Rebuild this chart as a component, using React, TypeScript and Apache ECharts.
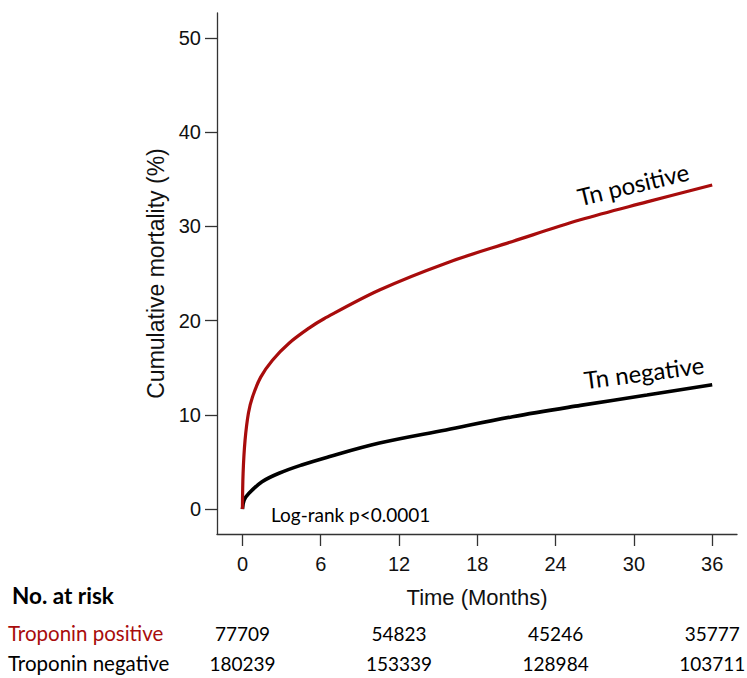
import React, { useEffect, useRef } from "react";
import * as echarts from "echarts";

// Cumulative mortality (%) by months since index troponin test
const posMonths = [0, 0.05, 0.2, 0.46, 0.77, 1.4, 2.3, 3.57, 5.1, 6.25, 10.5, 15.6, 20.7, 25.9, 31, 36];
const posMortality = [0, 3.8, 7.3, 10.2, 11.9, 14.0, 15.8, 17.6, 19.2, 20.2, 23.25, 26.1, 28.4, 30.7, 32.6, 34.4];

const negMonths = [0, 0.13, 0.5, 1.5, 2.8, 4.6, 6.25, 10.5, 15.6, 20.7, 25.9, 31, 36];
const negMortality = [0, 0.95, 1.67, 2.9, 3.8, 4.7, 5.4, 7.0, 8.4, 9.8, 11.0, 12.1, 13.2];

const xTicks = [0, 6, 12, 18, 24, 30, 36];
const yTicks = [0, 10, 20, 30, 40, 50];

// Numbers at risk
const riskMonths = [0, 12, 24, 36];
const riskPositive = [77709, 54823, 45246, 35777];
const riskNegative = [180239, 153339, 128984, 103711];

const RED = "#a80c0c";
const AXIS_FONT = "'Liberation Sans', Arial, sans-serif";
const TEXT_FONT = "Lato, 'Open Sans', sans-serif";

function zip(xs: number[], ys: number[]) {
  return xs.map((x, i) => [x, ys[i]]);
}

export default function App() {
  const ref = useRef<HTMLDivElement>(null);

  useEffect(() => {
    document.body.style.margin = "0";
    if (!ref.current) return;
    const chart = echarts.init(ref.current, null, { renderer: "svg" });

    const axisLine = { show: true, onZero: false, lineStyle: { color: "#333", width: 1.3 } };
    const tickStyle = { color: "#333", width: 1.3 };

    chart.setOption({
      animation: false,
      backgroundColor: "#fff",
      grid: { left: 217, right: 10, top: 13, bottom: 144 },
      xAxis: {
        type: "value",
        min: -1.95,
        max: 37.9,
        name: "Time (Months)",
        nameLocation: "middle",
        nameGap: 52,
        nameTextStyle: { fontFamily: AXIS_FONT, fontSize: 22, color: "#111" },
        axisLine,
        axisTick: { show: true, length: 12, customValues: xTicks, lineStyle: tickStyle },
        axisLabel: {
          customValues: xTicks,
          margin: 20,
          fontFamily: AXIS_FONT,
          fontSize: 20,
          color: "#111",
        },
        splitLine: { show: false },
      },
      yAxis: {
        type: "value",
        min: -2.65,
        max: 52.65,
        name: "Cumulative mortality (%)",
        nameLocation: "middle",
        nameGap: 50,
        nameTextStyle: { fontFamily: AXIS_FONT, fontSize: 23, color: "#111" },
        axisLine,
        axisTick: { show: true, length: 12, customValues: yTicks, lineStyle: tickStyle },
        axisLabel: {
          customValues: yTicks,
          margin: 16,
          fontFamily: AXIS_FONT,
          fontSize: 20,
          color: "#111",
        },
        splitLine: { show: false },
      },
      series: [
        {
          name: "Tn positive",
          type: "line",
          data: zip(posMonths, posMortality),
          smooth: 0.35,
          showSymbol: false,
          lineStyle: { color: RED, width: 3.2 },
          z: 3,
        },
        {
          name: "Tn negative",
          type: "line",
          data: zip(negMonths, negMortality),
          smooth: 0.35,
          showSymbol: false,
          lineStyle: { color: "#000", width: 3.6 },
          z: 2,
        },
      ],
    });

    const px = (m: number) => chart.convertToPixel({ xAxisIndex: 0 }, m) as number;

    const rowText = (
      text: string,
      x: number,
      y: number,
      color = "#000",
      align = "center",
      weight = "normal",
      size = 19
    ) => ({
      type: "text",
      x,
      y,
      style: {
        text,
        fill: color,
        font: `${weight} ${size}px ${TEXT_FONT}`,
        align,
        verticalAlign: "middle",
      },
    });

    const graphic: any[] = [
      rowText("No. at risk", 12, 595, "#000", "left", "bold", 22.5),
      rowText("Troponin positive", 8, 633, RED, "left", "normal", 20.5),
      rowText("Troponin negative", 8, 663, "#000", "left", "normal", 20.5),
      rowText("Log-rank p<0.0001", 271, 514, "#000", "left"),
      {
        type: "text",
        x: 633,
        y: 184,
        rotation: (13.5 * Math.PI) / 180,
        style: { text: "Tn positive", fill: "#000", font: `24px ${TEXT_FONT}`, align: "center", verticalAlign: "middle" },
      },
      {
        type: "text",
        x: 644,
        y: 372,
        rotation: (7.5 * Math.PI) / 180,
        style: { text: "Tn negative", fill: "#000", font: `24px ${TEXT_FONT}`, align: "center", verticalAlign: "middle" },
      },
    ];
    riskMonths.forEach((m, i) => {
      graphic.push(rowText(String(riskPositive[i]), px(m), 633));
      graphic.push(rowText(String(riskNegative[i]), px(m), 663));
    });

    chart.setOption({ graphic });

    return () => chart.dispose();
  }, []);

  return <div ref={ref} style={{ width: 747, height: 678 }} />;
}
